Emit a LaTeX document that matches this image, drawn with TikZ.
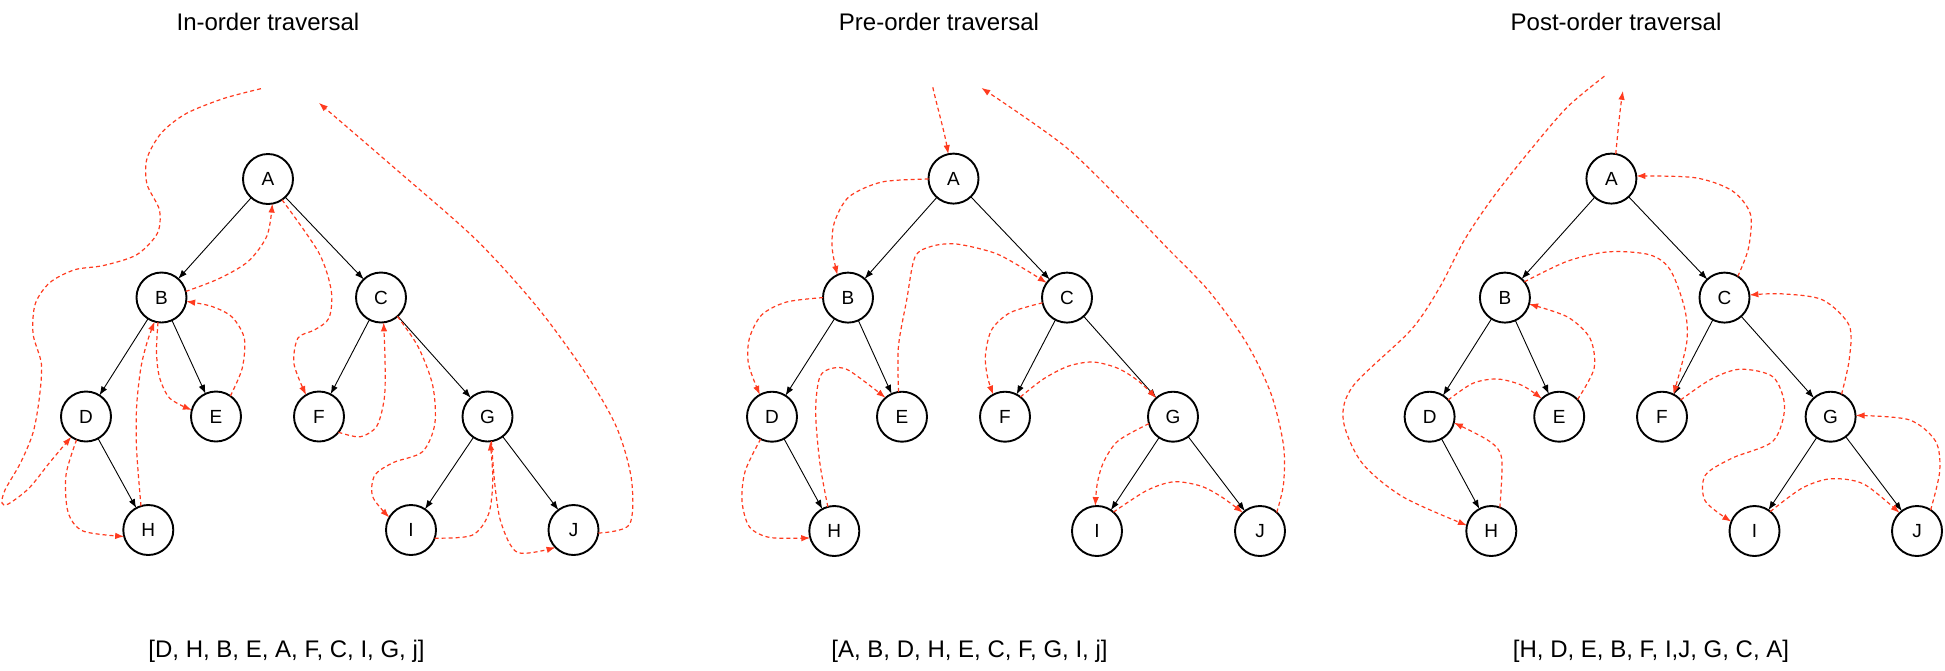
\documentclass[tikz,border=0pt]{standalone}
\usepackage{fontspec}
\setmainfont{Liberation Sans}
\usetikzlibrary{arrows.meta}
\definecolor{trav}{HTML}{FF3B1F}
\begin{document}
\begin{tikzpicture}[x=1pt,y=-1pt,
  tn/.style={circle,draw,line width=1.9pt,minimum size=50pt,inner sep=0pt,outer sep=0pt,font=\fontsize{19}{19}\selectfont},
  edge/.style={line width=0.9pt,-{Latex[length=9pt,width=6.5pt]}},
  walk/.style={trav,line width=1.2pt,dash pattern=on 4pt off 3pt,-{Latex[length=9pt,width=6.5pt]}},
  ttl/.style={font=\fontsize{24}{24}\selectfont,anchor=base,inner sep=0pt},
  seq/.style={font=\fontsize{24}{24}\selectfont,anchor=base,inner sep=0pt}]
\useasboundingbox (0,0) rectangle (1945,670);

% ---------------- In-order ----------------
\node[ttl] (T1) at (268,30) {In-order traversal};
\node[tn] (A1) at (268,179) {A};
\node[tn] (B1) at (161.5,297.5) {B};
\node[tn] (C1) at (381,297.5) {C};
\node[tn] (D1) at (86,416.5) {D};
\node[tn] (E1) at (216,416.5) {E};
\node[tn] (F1) at (319,416.5) {F};
\node[tn] (G1) at (487.5,416.5) {G};
\node[tn] (H1) at (148.3,530) {H};
\node[tn] (I1) at (411,530) {I};
\node[tn] (J1) at (573.5,530) {J};
\node[seq] (S1) at (286.5,657) {[D, H, B, E, A, F, C, I, G, j]};
\foreach \p/\c in {A1/B1,A1/C1,B1/D1,B1/E1,C1/F1,C1/G1,D1/H1,G1/I1,G1/J1}
  \draw[edge] (\p) -- (\c);
\coordinate (s1) at (260.9,88.7);
\coordinate (t1) at (318.8,102.8);
\draw[walk] plot[smooth] coordinates {(s1) (223.6,98.5) (186.3,113.5) (161.5,132.8) (147,158.5) (147,184.2) (159.4,209.9) (157.3,233.4) (136.6,254.8) (103.5,265.5) (74.5,269.8) (49.7,282.7) (35.2,304) (33.1,334) (41.4,364) (39.3,398.3) (33.1,432.5) (20.7,462.5) (5,490) (2,503) (8.3,504) (29,488.2) (49.7,462.5) (D1.-126)};
\draw[walk] plot[smooth] coordinates {(D1.-112) (66,475) (68,512) (83,531) (H1.-165)};
\draw[walk] plot[smooth] coordinates {(H1.107) (136.6,449.7) (136.6,406.9) (140.8,368.3) (147,342.6) (B1.-106)};
\draw[walk] plot[smooth] coordinates {(B1.-98) (156.5,351.2) (159.4,376.9) (169.8,398.3) (E1.165)};
\draw[walk] plot[smooth] coordinates {(E1.55) (242.2,368.3) (244.3,338.3) (231.9,316.9) (211.2,306.2) (B1.-9)};
\draw[walk] plot[smooth] coordinates {(B1.14) (219.5,278.4) (248.4,261.2) (267.1,235.5) (A1.-80)};
\draw[walk] plot[smooth] coordinates {(A1.-56) (318.8,252.7) (331.3,291) (329,318) (314.7,329.8) (298,338) (294,364) (F1.121)};
\draw[walk] plot[smooth] coordinates {(F1.-39) (360.2,436.8) (376.8,426.1) (384.3,398.3) (385.1,364) (C1.-84)};
\draw[walk] plot[smooth] coordinates {(C1.-49) (418.2,346.9) (432.7,385.4) (434.8,424) (422.4,451.8) (393.4,462.5) (374.7,475.4) (372.7,496.8) (I1.150)};
\draw[walk] plot[smooth] coordinates {(I1.-19) (472,535.3) (488.6,514) (492.8,479.7) (G1.-84)};
\draw[walk] plot[smooth] coordinates {(G1.-81) (494.8,484) (501,522.5) (517.6,552.5) (J1.-136)};
\draw[walk] plot[smooth] coordinates {(J1.-7) (629.4,524.6) (631.5,479.7) (617,428.3) (588,376.9) (538.3,308.4) (476.2,239.8) (393.4,167) (t1)};

% ---------------- Pre-order ----------------
\node[ttl] (T2) at (939,30) {Pre-order traversal};
\node[tn] (A2) at (953.5,178.6) {A};
\node[tn] (B2) at (848,297.6) {B};
\node[tn] (C2) at (1067,297.6) {C};
\node[tn] (D2) at (772,416.7) {D};
\node[tn] (E2) at (902,416.7) {E};
\node[tn] (F2) at (1005,416.7) {F};
\node[tn] (G2) at (1173,416.7) {G};
\node[tn] (H2) at (834.3,531) {H};
\node[tn] (I2) at (1097,531) {I};
\node[tn] (J2) at (1260,531) {J};
\node[seq] (S2) at (969.5,657) {[A, B, D, H, E, C, F, G, I, j]};
\foreach \p/\c in {A2/B2,A2/C2,B2/D2,B2/E2,C2/F2,C2/G2,D2/H2,G2/I2,G2/J2}
  \draw[edge] (\p) -- (\c);
\coordinate (s2) at (932.8,87.3);
\coordinate (t2) at (981.3,87.8);
\draw[walk] (s2) .. controls (938,110) and (944,130) .. (A2.102);
\draw[walk] plot[smooth] coordinates {(A2.181) (881.9,182) (848.8,197) (834.3,222.7) (832.2,248.4) (B2.115)};
\draw[walk] plot[smooth] coordinates {(B2.180) (786.6,302) (761.8,314.8) (749.4,338.3) (748.5,364) (D2.119)};
\draw[walk] plot[smooth] coordinates {(D2.-117) (745.2,471) (742,501) (749.4,526.8) (770,537.5) (H2.-164)};
\draw[walk] plot[smooth] coordinates {(H2.105) (819.8,462.5) (815.6,411) (819.8,376.9) (832.2,368.3) (848.8,370.4) (E2.131)};
\draw[walk] plot[smooth] coordinates {(E2.98) (898.4,346.9) (906.7,299.8) (915,257) (931.6,246.3) (956.4,244) (993.7,252.7) (1018.5,265.5) (C2.144)};
\draw[walk] plot[smooth] coordinates {(C2.-168) (1010.2,312.6) (991.6,329.8) (985.4,355.5) (987.5,376.9) (F2.118)};
\draw[walk] plot[smooth] coordinates {(F2.52) (1043.4,379) (1068.2,366.2) (1093,362) (1117.9,368.3) (1138.6,381.2) (G2.132)};
\draw[walk] plot[smooth] coordinates {(G2.-164) (1117.9,441) (1103.4,462.5) (1097.2,484) (I2.94)};
\draw[walk] plot[smooth] coordinates {(I2.49) (1146.9,490.4) (1173.8,481.8) (1200.7,486) (1221.4,496.8) (J2.133)};
\draw[walk] plot[smooth] coordinates {(J2.48) (1283.5,484) (1283.5,445.4) (1271.1,394) (1246.3,342.6) (1209,291.2) (1167.6,248.4) (1126.2,205.6) (1064,145.6) (t2)};

% ---------------- Post-order ----------------
\node[ttl] (T3) at (1616,30) {Post-order traversal};
\node[tn] (A3) at (1611.4,178.6) {A};
\node[tn] (B3) at (1504.9,297.6) {B};
\node[tn] (C3) at (1724.5,297.6) {C};
\node[tn] (D3) at (1429.6,416.7) {D};
\node[tn] (E3) at (1559.2,416.7) {E};
\node[tn] (F3) at (1662,416.7) {F};
\node[tn] (G3) at (1830.6,416.7) {G};
\node[tn] (H3) at (1491.3,531) {H};
\node[tn] (I3) at (1754.5,531) {I};
\node[tn] (J3) at (1917,531) {J};
\node[seq] (S3) at (1651,657) {[H, D, E, B, F, I,J, G, C, A]};
\foreach \p/\c in {A3/B3,A3/C3,B3/D3,B3/E3,C3/F3,C3/G3,D3/H3,G3/I3,G3/J3}
  \draw[edge] (\p) -- (\c);
\coordinate (s3) at (1604.4,76.2);
\coordinate (t3) at (1622.9,90.8);
\draw[walk] plot[smooth] coordinates {(s3) (1567.4,107) (1530.4,150) (1493.3,197) (1464.5,239.8) (1439.9,287) (1411.1,329.8) (1353.5,385.4) (1343.2,419.7) (1361.7,462.5) (1402.8,496.8) (H3.167)};
\draw[walk] plot[smooth] coordinates {(H3.70) (1501.6,458.2) (1489.2,441.1) (D3.-14)};
\draw[walk] plot[smooth] coordinates {(D3.42) (1472.8,383.3) (1497.4,379) (1522.1,385.4) (E3.134)};
\draw[walk] plot[smooth] coordinates {(E3.43) (1594.1,368.3) (1590,338.3) (1567.4,316.9) (B3.-15)};
\draw[walk] plot[smooth] coordinates {(B3.39) (1567.4,261.2) (1608.5,251.8) (1649.7,254.8) (1670.2,269.8) (1684.6,308.4) (1686.7,342.6) (F3.63)};
\draw[walk] plot[smooth] coordinates {(F3.42) (1711.4,379) (1740.1,369.2) (1773,376.9) (1784.6,406.9) (1773,441.1) (1731.9,458.2) (1705.2,475.4) (1705.2,501) (I3.158)};
\draw[walk] plot[smooth] coordinates {(I3.51) (1801.9,488.2) (1830.6,478.8) (1863.6,484) (J3.134)};
\draw[walk] plot[smooth] coordinates {(J3.57) (1939.7,471.1) (1935.5,441.1) (1908.8,419.7) (G3.3)};
\draw[walk] plot[smooth] coordinates {(G3.64) (1849.2,359.7) (1849.2,325.5) (1822.4,299.8) (1781.3,293.8) (C3.6)};
\draw[walk] plot[smooth] coordinates {(C3.58) (1748.4,248.4) (1750.4,214.1) (1731.9,190.6) (1694.9,177.7) (A3.6)};
\draw[walk] (A3.80) .. controls (1618,130) and (1620,110) .. (t3);
\end{tikzpicture}
\end{document}
